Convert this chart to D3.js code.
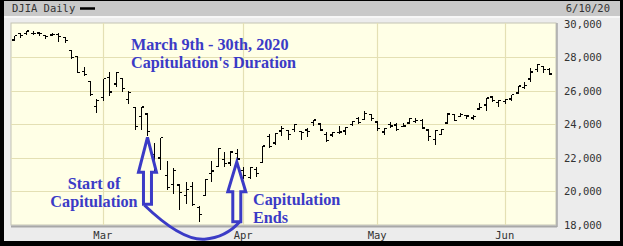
<!DOCTYPE html>
<html><head><meta charset="utf-8">
<script src="https://cdn.jsdelivr.net/npm/d3@7"></script>
<style>html,body{margin:0;padding:0;background:#000;}svg{display:block;}</style>
</head><body>
<svg id="c" width="623" height="246"></svg>
<script>
const dates = ["2020-02-10","2020-02-11","2020-02-12","2020-02-13","2020-02-14","2020-02-18","2020-02-19","2020-02-20","2020-02-21","2020-02-24","2020-02-25","2020-02-26","2020-02-27","2020-02-28",
"2020-03-02","2020-03-03","2020-03-04","2020-03-05","2020-03-06","2020-03-09","2020-03-10","2020-03-11","2020-03-12","2020-03-13","2020-03-16","2020-03-17","2020-03-18","2020-03-19","2020-03-20","2020-03-23","2020-03-24","2020-03-25","2020-03-26","2020-03-27","2020-03-30","2020-03-31",
"2020-04-01","2020-04-02","2020-04-03","2020-04-06","2020-04-07","2020-04-08","2020-04-09","2020-04-13","2020-04-14","2020-04-15","2020-04-16","2020-04-17","2020-04-20","2020-04-21","2020-04-22","2020-04-23","2020-04-24","2020-04-27","2020-04-28","2020-04-29","2020-04-30",
"2020-05-01","2020-05-04","2020-05-05","2020-05-06","2020-05-07","2020-05-08","2020-05-11","2020-05-12","2020-05-13","2020-05-14","2020-05-15","2020-05-18","2020-05-19","2020-05-20","2020-05-21","2020-05-22","2020-05-26","2020-05-27","2020-05-28","2020-05-29",
"2020-06-01","2020-06-02","2020-06-03","2020-06-04","2020-06-05","2020-06-08","2020-06-09","2020-06-10"];
const open  = [29019,29390,29406,29420,29440,29280,29309,29357,29158,28403,28028,27124,26526,25025,
25591,26763,26384,26701,25458,24992,24453,24604,22184,21973,20918,20384,20358,19735,20253,19028,19722,21050,21469,21899,21678,22229,
21228,20819,21286,21694,23264,22868,23587,23596,23662,23549,23646,24084,24005,23372,23350,23475,23575,23955,24324,24248,24560,
24121,23530,23956,23946,23867,24068,24170,24203,23638,23084,23380,24057,24566,24432,24512,24367,24904,25136,25617,25300,
25343,25488,25842,26192,26684,27233,27448,27252];
const high  = [29277,29415,29568,29528,29441,29297,29409,29407,29172,28403,28040,27387,26564,25488,
26706,27084,27091,26701,25995,24992,25020,24604,22838,23186,21763,21356,20438,20555,20532,19121,20705,21801,22596,22328,22378,22481,
21447,21454,21446,22680,23422,23434,23904,23596,24008,23611,23734,24264,24005,23530,23514,23886,23816,24206,24412,24765,24580,
24121,23758,24141,24030,24034,24331,24380,24294,23651,23633,23700,24657,24566,24664,24564,24522,25278,25549,25689,25441,
25510,25750,26270,26501,27338,27580,27448,27355];
const low   = [28995,29190,29367,29369,29316,29129,29291,28943,28897,27921,27058,26898,25717,24681,
25391,25706,26248,25943,25227,23707,23690,23328,21154,21286,20116,19852,18917,19238,19129,18214,19722,20579,21469,21469,21523,21859,
20736,20735,20863,21694,22628,22777,23327,23107,23565,23100,23271,23899,23635,22941,23239,23448,23405,23917,24056,24248,24209,
23645,23361,23813,23645,23830,24068,24102,23759,23050,22790,23356,24057,24197,24432,24317,24292,24896,24823,25360,25038,
25235,25418,25842,26118,26573,27146,27100,26968];
const close = [29277,29276,29551,29423,29398,29232,29348,29220,28992,27961,27081,26958,25767,25409,
26703,25917,27091,26121,25865,23851,25018,23553,21201,23186,20189,21237,19899,20087,19174,18592,20705,21201,22552,21637,22327,21917,
20944,21413,21053,22680,22654,23434,23719,23391,23950,23504,23538,24242,23650,23019,23476,23515,23775,24134,24102,24634,24346,
23724,23750,23883,23665,23876,24331,24222,23765,23248,23625,23685,24597,24207,24576,24474,24465,24995,25548,25401,25383,
25475,25743,26270,26282,27111,27572,27272,26990];
const yTicks = [18000,20000,22000,24000,26000,28000,30000];
const monthStarts = ["2020-03-02","2020-04-01","2020-05-01","2020-06-01"];
const monthLabels = ["Mar","Apr","May","Jun"];
const title = "DJIA Daily";
const dateLabel = "6/10/20";
const note1 = ["March 9th - 30th, 2020","Capitulation's Duration"];
const note2 = ["Start of","Capitulation"];
const note3 = ["Capitulation","Ends"];

const svg = d3.select("#c");
const W = 623, H = 246;
const blue = "#3b3bc6";
// frame
svg.append("rect").attr("x",0).attr("y",0).attr("width",W).attr("height",H).attr("fill","#000");
svg.append("rect").attr("x",4).attr("y",1).attr("width",616).attr("height",240).attr("fill","#ececec");
svg.append("rect").attr("x",4).attr("y",1).attr("width",616).attr("height",15).attr("fill","#c9c9c9");
svg.append("rect").attr("x",4).attr("y",16).attr("width",616).attr("height",2).attr("fill","#f7f7f7");

const P = {l:11, r:556, t:23, b:225};
const x = d3.scalePoint().domain(dates).range([13.5, 549.4]);
const y = d3.scaleLinear().domain([18000,30000]).range([224.5, 23.5]);

svg.append("rect").attr("x",P.l).attr("y",P.t).attr("width",P.r-P.l).attr("height",P.b-P.t)
  .attr("fill","#ffffe6").attr("stroke","#c4c4b4").attr("stroke-width",1);
// shadow on right/bottom
svg.append("line").attr("x1",P.l).attr("x2",P.r+1).attr("y1",P.b+1.5).attr("y2",P.b+1.5).attr("stroke","#a8a8a8").attr("stroke-width",2);
svg.append("line").attr("x1",P.r+1).attr("x2",P.r+1).attr("y1",P.t).attr("y2",P.b+2).attr("stroke","#a8a8a8").attr("stroke-width",1.5);

const grid = svg.append("g").attr("stroke","#e4e0b4").attr("stroke-width",1.2);
yTicks.filter(v=>v>18000 && v<30000).forEach(v=>{
  grid.append("line").attr("x1",P.l).attr("x2",P.r).attr("y1",Math.round(y(v))+0.5).attr("y2",Math.round(y(v))+0.5);
});
monthStarts.forEach(d=>{
  grid.append("line").attr("x1",Math.round(x(d))+0.5).attr("x2",Math.round(x(d))+0.5).attr("y1",P.t).attr("y2",P.b);
});

// axis labels
const lab = svg.append("g").attr("font-family","'DejaVu Sans Mono', monospace").attr("font-size","10.5px").attr("fill","#333");
yTicks.forEach(v=>{
  lab.append("text").attr("x",564).attr("y",y(v)+4).text(d3.format(",")(v));
});
monthStarts.forEach((d,i)=>{
  lab.append("text").attr("x",x(d)).attr("y",239).attr("text-anchor","middle").text(monthLabels[i]);
});
lab.append("text").attr("x",12).attr("y",12).text(title);
lab.append("text").attr("x",610).attr("y",12).attr("text-anchor","end").text(dateLabel);
svg.append("line").attr("x1",80).attr("x2",95).attr("y1",8.5).attr("y2",8.5).attr("stroke","#000").attr("stroke-width",2.5);

// OHLC bars
const bars = svg.append("g").attr("stroke","#000").attr("stroke-width",1.3).attr("shape-rendering","crispEdges");
dates.forEach((d,i)=>{
  const cx = Math.round(x(d))+0.5;
  bars.append("line").attr("x1",cx).attr("x2",cx).attr("y1",y(high[i])).attr("y2",y(low[i])+0.6);
  bars.append("line").attr("x1",cx-2.5).attr("x2",cx).attr("y1",y(open[i])).attr("y2",y(open[i]));
  bars.append("line").attr("x1",cx).attr("x2",cx+2.5).attr("y1",y(close[i])).attr("y2",y(close[i]));
});

// annotations
const ann = svg.append("g").attr("font-family","'Liberation Serif', 'Times New Roman', serif").attr("font-weight","bold").attr("font-size","16.2px").attr("fill",blue);
ann.append("text").attr("x",131).attr("y",50).text(note1[0]);
ann.append("text").attr("x",131).attr("y",68).text(note1[1]);
ann.append("text").attr("x",94).attr("y",189).attr("text-anchor","middle").text(note2[0]);
ann.append("text").attr("x",94).attr("y",207).attr("text-anchor","middle").text(note2[1]);
ann.append("text").attr("x",253).attr("y",205).text(note3[0]);
ann.append("text").attr("x",253).attr("y",223).text(note3[1]);

function arrow(tx, ty, headLen, totalLen){
  const hw = 9, sw = 4;
  return `M${tx},${ty} L${tx+hw},${ty+headLen} L${tx+sw},${ty+headLen} L${tx+sw},${ty+totalLen} L${tx-sw},${ty+totalLen} L${tx-sw},${ty+headLen} L${tx-hw},${ty+headLen} Z`;
}
const iA = dates.indexOf("2020-03-11"), iB = dates.indexOf("2020-03-31");
const ax = x(dates[iA]), ay = y(low[iA]) + 2;
const bx = x(dates[iB]), by = y(low[iB]) + 2;
const arr = svg.append("g").attr("fill","none").attr("stroke",blue).attr("stroke-width",3).attr("stroke-linejoin","miter");
arr.append("path").attr("d",arrow(ax, ay, 35, 67));
arr.append("path").attr("d",arrow(bx, by, 30, 60));
arr.append("path").attr("d",`M${ax-3},${ay+68} C${ax+22},${ay+92} ${ax+42},${ay+103} ${ax+57},${ay+102} C${ax+72},${ay+101} ${bx-6},${by+70} ${bx+3},${by+60}`);
</script>
</body></html>
